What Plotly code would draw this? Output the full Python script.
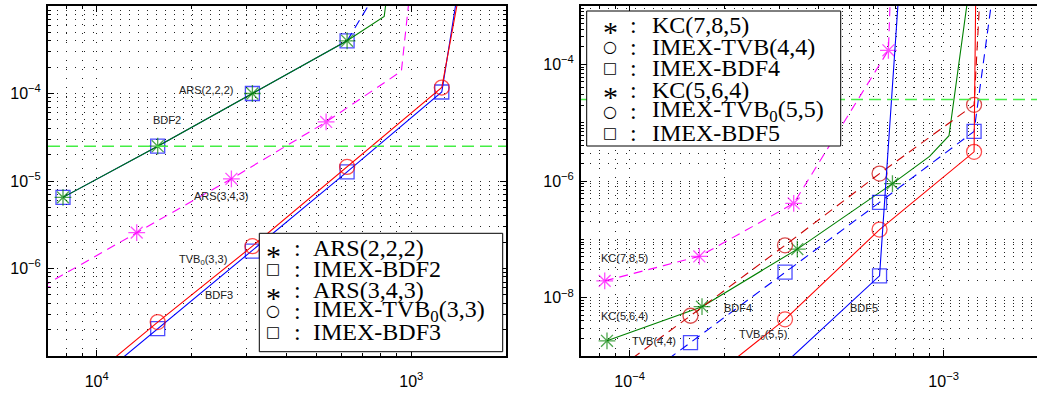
import numpy as np
import plotly.graph_objects as go

# ---------------- data: left panel (2nd / 3rd order) ----------------
ars222_x = [7.8125e-5, 1.5625e-4, 3.125e-4, 6.25e-4, 8.2e-4, 9.0e-4]
ars222_y = [6.5e-6, 2.5e-5, 1.0e-4, 4.0e-4, 7.6e-4, 1.0e-2]
ars222_marked = [1, 1, 1, 1, 0, 0]

bdf2_x = [7.8125e-5, 1.5625e-4, 3.125e-4, 6.25e-4]
bdf2_y = [6.5e-6, 2.5e-5, 1.0e-4, 4.0e-4]
bdf2_marked = [1, 1, 1, 1]
bdf2_tail_x = [6.25e-4, 1.25e-3]
bdf2_tail_y = [4.0e-4, 2.5e-2]

ars343_x = [6.7e-5, 1.34e-4, 2.68e-4, 5.36e-4, 9.3e-4, 1.07e-3]
ars343_y = [6.2e-7, 2.57e-6, 1.06e-5, 4.73e-5, 1.8e-4, 2.0e-2]
ars343_marked = [1, 1, 1, 1, 0, 0]

tvb033_x = [7.8125e-5, 1.5625e-4, 3.125e-4, 6.25e-4, 1.25e-3, 1.57e-3]
tvb033_y = [3.1e-8, 2.44e-7, 1.8e-6, 1.45e-5, 1.17e-4, 1.0e-2]
tvb033_marked = [0, 1, 1, 1, 1, 0]

bdf3_x = [7.8125e-5, 1.5625e-4, 3.125e-4, 6.25e-4, 1.25e-3, 1.53e-3]
bdf3_y = [2.6e-8, 2.05e-7, 1.58e-6, 1.27e-5, 1.04e-4, 1.0e-2]
bdf3_marked = [0, 1, 1, 1, 1, 0]

# ---------------- data: right panel (4th / 5th order) ----------------
kc785_x = [8.33e-5, 1.667e-4, 3.33e-4, 6.67e-4, 6.85e-4]
kc785_y = [1.94e-8, 5.1e-8, 4.13e-7, 1.74e-4, 1.0e-2]
kc785_marked = [1, 1, 1, 1, 0]

kc564_x = [8.47e-5, 1.70e-4, 3.42e-4, 6.87e-4, 9.02e-4, 1.04e-3, 1.256e-3]
kc564_y = [1.82e-9, 7.0e-9, 6.8e-8, 9.0e-7, 2.64e-6, 5.97e-6, 1.0e-2]
kc564_marked = [1, 1, 1, 1, 0, 0, 0]

tvb44_x = [7.8125e-5, 1.5625e-4, 3.125e-4, 6.25e-4, 1.25e-3, 1.33e-3]
tvb44_y = [3.2e-10, 4.9e-9, 7.9e-8, 1.34e-6, 2.02e-5, 1.0e-2]
tvb44_marked = [0, 1, 1, 1, 1, 0]

bdf4_x = [7.8125e-5, 1.5625e-4, 3.125e-4, 6.25e-4, 1.25e-3, 1.5e-3]
bdf4_y = [1.07e-10, 1.70e-9, 2.74e-8, 4.3e-7, 7.1e-6, 1.0e-2]
bdf4_marked = [0, 1, 1, 1, 1, 0]

tvb055_x = [1.5625e-4, 3.125e-4, 6.25e-4, 1.25e-3, 1.27e-3]
tvb055_y = [2.2e-10, 4.25e-9, 1.47e-7, 3.16e-6, 1.0e-2]
tvb055_marked = [0, 1, 1, 1, 0]

bdf5_x = [3.125e-4, 6.25e-4, 7.36e-4]
bdf5_y = [7.5e-10, 2.37e-8, 1.0e-2]
bdf5_marked = [0, 1, 0]

threshold = 2.5e-5

left_legend = [("*", "ARS(2,2,2)"), ("□", "IMEX-BDF2"), ("*", "ARS(3,4,3)"),
               ("○", "IMEX-TVB<sub>0</sub>(3,3)"), ("□", "IMEX-BDF3")]
right_legend = [("*", "KC(7,8,5)"), ("○", "IMEX-TVB(4,4)"), ("□", "IMEX-BDF4"),
                ("*", "KC(5,6,4)"), ("○", "IMEX-TVB<sub>0</sub>(5,5)"), ("□", "IMEX-BDF5")]

left_xticks = [1e-4, 1e-3]
left_xticktext = ["10<sup>4</sup>", "10<sup>3</sup>"]
left_yticks = [1e-6, 1e-5, 1e-4]
left_yticktext = ["10<sup>−6</sup>", "10<sup>−5</sup>", "10<sup>−4</sup>"]
right_xticks = [1e-4, 1e-3]
right_xticktext = ["10<sup>−4</sup>", "10<sup>−3</sup>"]
right_yticks = [1e-8, 1e-6, 1e-4]
right_yticktext = ["10<sup>−8</sup>", "10<sup>−6</sup>", "10<sup>−4</sup>"]

# ---------------- styling ----------------
W, H = 1037, 397
BLUE, GREEN, RED, MAG, DRED = "#0000ff", "#008000", "#ff0000", "#ff00ff", "#cc0000"
THR = "#44ee44"
DASH = "9px,6px"

fig = go.Figure()


def add_series(x, y, marked, color, dash, symbol, msize, xa, ya, width=1.1):
    sizes = [msize if m else 0 for m in marked]
    fig.add_trace(go.Scatter(
        x=x, y=y, mode="lines+markers", xaxis=xa, yaxis=ya, showlegend=False,
        line=dict(color=color, width=width, dash=dash),
        marker=dict(symbol=symbol, size=sizes, color=color,
                    line=dict(color=color, width=1.3)),
        hoverinfo="skip"))


# left panel
add_series(bdf2_x, bdf2_y, bdf2_marked, BLUE, "solid", "square-open", 14, "x", "y")
fig.add_trace(go.Scatter(x=bdf2_tail_x, y=bdf2_tail_y, mode="lines", xaxis="x", yaxis="y",
                         showlegend=False, line=dict(color=BLUE, width=1.1, dash=DASH)))
add_series(ars222_x, ars222_y, ars222_marked, GREEN, "solid", "asterisk-open", 14, "x", "y")
add_series(ars343_x, ars343_y, ars343_marked, MAG, DASH, "asterisk-open", 14, "x", "y")
add_series(bdf3_x, bdf3_y, bdf3_marked, BLUE, "solid", "square-open", 14, "x", "y")
add_series(tvb033_x, tvb033_y, tvb033_marked, RED, "solid", "circle-open", 15, "x", "y")

# right panel
add_series(kc785_x, kc785_y, kc785_marked, MAG, DASH, "asterisk-open", 14, "x2", "y2")
add_series(kc564_x, kc564_y, kc564_marked, GREEN, "solid", "asterisk-open", 14, "x2", "y2")
add_series(tvb44_x, tvb44_y, tvb44_marked, DRED, DASH, "circle-open", 15, "x2", "y2")
add_series(bdf4_x, bdf4_y, bdf4_marked, BLUE, DASH, "square-open", 14, "x2", "y2")
add_series(tvb055_x, tvb055_y, tvb055_marked, RED, "solid", "circle-open", 15, "x2", "y2")
add_series(bdf5_x, bdf5_y, bdf5_marked, BLUE, "solid", "square-open", 14, "x2", "y2")

minor_vals = [k * 10.0 ** n for n in range(-11, 0) for k in range(1, 10)]
GRIDC = "#222222"
GDASH = "1px,8px"
TICKFONT = dict(family="Liberation Sans, Arial, sans-serif", size=16, color="black")


def axis(domain, rng, tickvals, ticktext, mirror, anchor, standoff=None):
    d = dict(
        type="log", domain=domain, range=rng, anchor=anchor,
        tickmode="array", tickvals=tickvals, ticktext=ticktext,
        ticks="inside", ticklen=6, tickwidth=1, tickcolor="black",
        showline=True, linewidth=2, linecolor="black", mirror=mirror,
        showgrid=True, gridcolor=GRIDC, griddash=GDASH, gridwidth=1,
        zeroline=False, tickfont=TICKFONT,
        minor=dict(tickmode="array", tickvals=minor_vals, ticks="inside", ticklen=3,
                   tickcolor="black", showgrid=True, gridcolor=GRIDC, griddash=GDASH,
                   gridwidth=1),
    )
    if standoff is not None:
        d["ticklabelstandoff"] = standoff
    return d


y_dom = [1 - 356 / H, 1 - 6 / H]
xl = [48 / W, 506 / W]
xr = [581 / W, 1.0]
left_xrange = [np.log10(7e-5), np.log10(2e-3)]
right_xrange = [np.log10(7e-5), np.log10(7e-5) + (W - 581) / 314.0]

fig.update_layout(
    width=W, height=H, margin=dict(l=0, r=0, t=0, b=0),
    paper_bgcolor="white", plot_bgcolor="white",
    xaxis=axis(xl, left_xrange, left_xticks, left_xticktext, "ticks", "y", 10),
    yaxis=axis(y_dom, [-7, -3], left_yticks, left_yticktext, "ticks", "x", 2),
    xaxis2=axis(xr, right_xrange, right_xticks, right_xticktext, "ticks", "y2", 10),
    yaxis2=axis(y_dom, [-9, -3], right_yticks, right_yticktext, False, "x2", 2),
)

# threshold lines
for xa, ya in (("x", "y"), ("x2", "y2")):
    fig.add_shape(type="line", xref=xa + " domain", yref=ya, x0=0, x1=1,
                  y0=threshold, y1=threshold, layer="above",
                  line=dict(color=THR, width=1.5, dash="12px,6px"))

# curve labels (positions in log10 units)
LBL = dict(family="Liberation Sans, Arial, sans-serif", size=11, color="#222222")
labels_left = [("ARS(2,2,2)", -3.652, -3.962), ("BDF2", -3.776, -4.302),
               ("ARS(3,4,3)", -3.606, -5.169), ("TVB<sub>0</sub>(3,3)", -3.663, -5.907),
               ("BDF3", -3.610, -6.304)]
labels_right = [("KC(7,8,5)", -4.0175, -7.321), ("KC(5,6,4)", -4.0175, -8.316),
                ("BDF4", -3.6535, -8.183), ("TVB(4,4)", -3.924, -8.741),
                ("TVB<sub>0</sub>(5,5)", -3.574, -8.643), ("BDF5", -3.254, -8.183)]
for t, lx, ly in labels_left:
    fig.add_annotation(text=t, x=lx, y=ly, xref="x", yref="y", showarrow=False, font=LBL)
for t, lx, ly in labels_right:
    fig.add_annotation(text=t, x=lx, y=ly, xref="x2", yref="y2", showarrow=False, font=LBL)

# legend boxes (text legends)
SERIF = dict(family="Liberation Serif, Times New Roman, serif", size=24, color="black")
SYM_FONT = {
    "*": dict(family="Liberation Serif, serif", size=30, color="black"),
    "□": dict(family="DejaVu Sans, sans-serif", size=15, color="black"),
    "○": dict(family="DejaVu Sans, sans-serif", size=16, color="black"),
}
SYM_SHIFT = {"*": -7, "□": 0, "○": 0}


def legend_box(x0, y0, x1, y1, entries, sym_x, colon_x, text_x, row0, dy):
    fig.add_shape(type="rect", xref="paper", yref="paper",
                  x0=x0 / W, x1=x1 / W, y0=1 - y1 / H, y1=1 - y0 / H,
                  line=dict(color="black", width=1), fillcolor="white", layer="above")
    for i, (s, t) in enumerate(entries):
        yy = 1 - (row0 + i * dy) / H
        fig.add_annotation(text=s, x=sym_x / W, y=yy + SYM_SHIFT[s] / H,
                           xref="paper", yref="paper",
                           xanchor="center", yanchor="middle", showarrow=False,
                           font=SYM_FONT[s])
        fig.add_annotation(text=":", x=colon_x / W, y=yy, xref="paper", yref="paper",
                           xanchor="center", yanchor="middle", showarrow=False, font=SERIF)
        fig.add_annotation(text=t, x=text_x / W, y=yy, xref="paper", yref="paper",
                           xanchor="left", yanchor="middle", showarrow=False, font=SERIF)


legend_box(259.3, 233.3, 502.7, 351.7, left_legend, 273, 297, 311, 248.3, 20.85)
legend_box(586.7, 11, 840.7, 146, right_legend, 610, 633.3, 650, 25, 21.5)

fig.write_html("out.html")
